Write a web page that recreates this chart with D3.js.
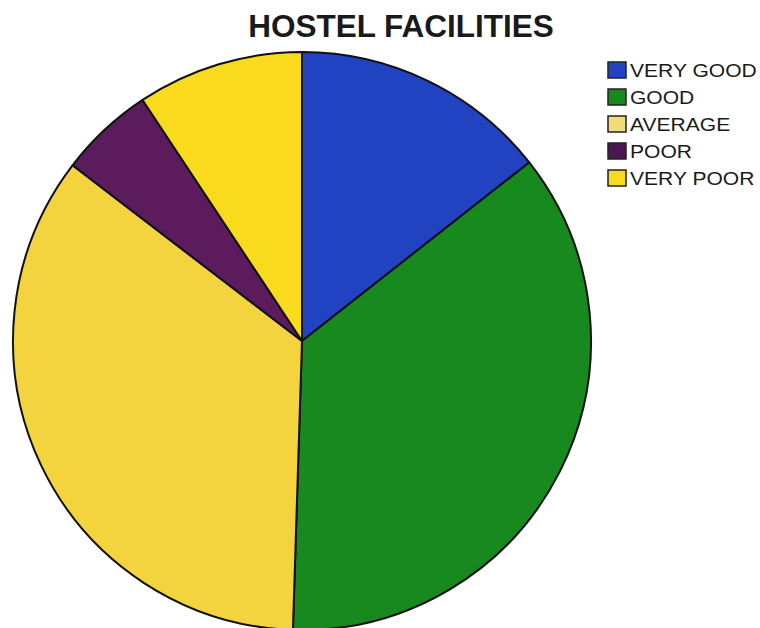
<!DOCTYPE html>
<html><head><meta charset="utf-8">
<script src="https://cdn.jsdelivr.net/npm/d3@7"></script>
<style>body{margin:0;background:#fff}svg{display:block}</style>
</head><body>
<svg id="c" width="760" height="628"></svg>
<script>
const categories = ["VERY GOOD","GOOD","AVERAGE","POOR","VERY POOR"];
const values = [14.4, 36.1, 34.9, 5.3, 9.3];
const colors = ["#2143c2","#17891e","#f3d43e","#5b1b5c","#f9da1c"];
const legendColors = ["#2143c2","#17891e","#f2dc7a","#4a1850","#f9da1c"];
const title = "HOSTEL FACILITIES";

const svg = d3.select("#c");
const cx = 302, cy = 341, r = 289;
const pie = d3.pie().sort(null).value(d => d)(values);
const arc = d3.arc().innerRadius(0).outerRadius(r);
svg.append("g").attr("transform", `translate(${cx},${cy})`)
  .selectAll("path").data(pie).join("path")
  .attr("d", arc).attr("fill", (d,i) => colors[i])
  .attr("stroke", "#111").attr("stroke-width", 2).attr("stroke-linejoin","round");

svg.append("text").attr("x", 401).attr("y", 37).attr("text-anchor","middle")
  .attr("font-family","Liberation Sans, Arial, sans-serif").attr("font-weight","bold")
  .attr("font-size", 31.5).attr("fill","#1a1a1a").text(title);

const lg = svg.append("g").attr("transform","translate(608,62)");
const rows = lg.selectAll("g").data(categories).join("g")
  .attr("transform", (d,i) => `translate(0,${i*27})`);
rows.append("rect").attr("width",18).attr("height",16)
  .attr("fill",(d,i)=>legendColors[i]).attr("stroke","#222").attr("stroke-width",1.5);
rows.append("text").attr("transform","translate(22,15) scale(1.17,1)")
  .attr("font-family","Liberation Sans, Arial, sans-serif").attr("font-size",18)
  .attr("fill","#1a1a1a").text(d=>d);
</script>
</body></html>
